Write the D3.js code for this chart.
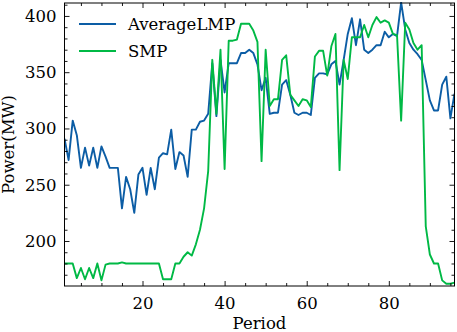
<!DOCTYPE html>
<html>
<head>
<meta charset="utf-8">
<script src="https://cdn.jsdelivr.net/npm/d3@7"></script>
<style>
  body { margin: 0; background: #fff; }
  text { font-family: "DejaVu Serif", serif; fill: #000; }
</style>
</head>
<body>
<div id="canvas"></div>
<script>
"use strict"
let svgWidth = 457;
let svgHeight = 332;

let marginLeft = 64.5;
let marginRight = 2.5;
let marginTop = 3;
let marginBottom = 46;

// period index 1..96
let periods = d3.range(1, 97);

let averageLMP = [
    291, 272, 307, 294, 265, 283, 267, 283, 265, 284, 275, 265, 265, 265, 229, 257,
    246, 225, 259, 265, 241, 265, 246, 274, 278, 277, 299, 264, 279, 276, 257, 299,
    299, 306, 307, 313, 358, 311, 361, 332, 358, 358, 358, 367, 367, 370, 367, 357,
    334, 345, 313, 314, 314, 339, 343, 330, 314, 312, 314, 314, 312, 345, 349, 349,
    348, 357, 360, 339, 361, 384, 398, 374, 397, 370, 367, 370, 374, 374, 386, 381,
    384, 382, 412, 388, 376, 370, 366, 361, 343, 325, 316, 316, 339, 346, 309, 331
];

let smp = [
    180, 180, 180, 167, 176, 166, 176, 167, 180, 165, 179, 180, 180, 180, 181, 180,
    180, 180, 180, 180, 180, 180, 180, 180, 166, 166, 166, 180, 180, 186, 190, 187,
    197, 210, 229, 262, 361, 313, 370, 264, 378, 378, 379, 393, 393, 393, 387, 377,
    271, 370, 320, 326, 326, 361, 365, 330, 325, 320, 326, 325, 319, 364, 369, 369,
    347, 373, 384, 263, 361, 344, 381, 381, 381, 392, 381, 392, 399, 394, 396, 394,
    384, 383, 307, 394, 388, 376, 370, 374, 213, 188, 180, 180, 165, 162, 162, 163
];

let seriesNames = ["AverageLMP", "SMP"];
let seriesColors = ["#0C5DA5", "#00B945"];

let xMajorTicks = [20, 40, 60, 80];
let xMinorTicks = d3.range(5, 96, 5);
let yMajorTicks = [200, 250, 300, 350, 400];
let yMinorTicks = d3.range(170, 411, 10);

let svg = d3.select("#canvas")
    .append("svg")
    .attr("width", svgWidth)
    .attr("height", svgHeight);

let xScale = d3.scaleLinear()
    .domain([1, 96])
    .range([marginLeft, svgWidth - marginRight]);

let yScale = d3.scaleLinear()
    .domain([160, 411.5])
    .range([svgHeight - marginBottom, marginTop]);

let plotW = svgWidth - marginRight - marginLeft;
let plotH = svgHeight - marginBottom - marginTop;

svg.append("clipPath")
    .attr("id", "plotClip")
    .append("rect")
    .attr("x", marginLeft)
    .attr("y", marginTop - 1)
    .attr("width", plotW)
    .attr("height", plotH + 1);

// draw the two series
let line = d3.line()
    .x(function(d, i) { return xScale(periods[i]); })
    .y(function(d) { return yScale(d); });

let allSeries = [averageLMP, smp];
for (let s = 0; s < allSeries.length; s++) {
    svg.append("path")
        .datum(allSeries[s])
        .attr("clip-path", "url(#plotClip)")
        .attr("fill", "none")
        .attr("stroke", seriesColors[s])
        .attr("stroke-width", 1.9)
        .attr("stroke-linejoin", "round")
        .attr("d", line);
}

// ticks pointing inward on all four sides
function styleAxis(g) {
    g.select(".domain").remove();
    g.selectAll("line").attr("stroke", "#000").attr("stroke-width", 0.9);
    g.selectAll("text").attr("font-size", "16.5px").attr("font-family", "DejaVu Serif");
}

let bottomY = svgHeight - marginBottom;
let rightX = svgWidth - marginRight;

svg.append("g")
    .attr("transform", "translate(0," + bottomY + ")")
    .call(d3.axisBottom(xScale).tickValues(xMajorTicks).tickSize(-5).tickPadding(11).tickFormat(d3.format("d")))
    .call(styleAxis);
svg.append("g")
    .attr("transform", "translate(0," + bottomY + ")")
    .call(d3.axisBottom(xScale).tickValues(xMinorTicks.filter(function(v) { return v % 20 != 0; })).tickSize(-3).tickFormat(""))
    .call(styleAxis);
svg.append("g")
    .attr("transform", "translate(0," + marginTop + ")")
    .call(d3.axisTop(xScale).tickValues(xMajorTicks).tickSize(-5).tickFormat(""))
    .call(styleAxis);
svg.append("g")
    .attr("transform", "translate(0," + marginTop + ")")
    .call(d3.axisTop(xScale).tickValues(xMinorTicks.filter(function(v) { return v % 20 != 0; })).tickSize(-3).tickFormat(""))
    .call(styleAxis);

svg.append("g")
    .attr("transform", "translate(" + marginLeft + ",0)")
    .call(d3.axisLeft(yScale).tickValues(yMajorTicks).tickSize(-5).tickPadding(8).tickFormat(d3.format("d")))
    .call(styleAxis);
svg.append("g")
    .attr("transform", "translate(" + marginLeft + ",0)")
    .call(d3.axisLeft(yScale).tickValues(yMinorTicks.filter(function(v) { return v % 50 != 0; })).tickSize(-3).tickFormat(""))
    .call(styleAxis);
svg.append("g")
    .attr("transform", "translate(" + rightX + ",0)")
    .call(d3.axisRight(yScale).tickValues(yMajorTicks).tickSize(-5).tickFormat(""))
    .call(styleAxis);
svg.append("g")
    .attr("transform", "translate(" + rightX + ",0)")
    .call(d3.axisRight(yScale).tickValues(yMinorTicks.filter(function(v) { return v % 50 != 0; })).tickSize(-3).tickFormat(""))
    .call(styleAxis);

// frame
svg.append("rect")
    .attr("x", marginLeft)
    .attr("y", marginTop)
    .attr("width", plotW)
    .attr("height", plotH)
    .attr("fill", "none")
    .attr("stroke", "#000")
    .attr("stroke-width", 1);

// axis labels
svg.append("text")
    .attr("x", marginLeft + plotW / 2)
    .attr("y", svgHeight - 3)
    .attr("text-anchor", "middle")
    .attr("font-size", "16.5px")
    .text("Period");

svg.append("text")
    .attr("transform", "rotate(-90)")
    .attr("x", -(marginTop + plotH / 2))
    .attr("y", 14)
    .attr("text-anchor", "middle")
    .attr("font-size", "16.5px")
    .text("Power(MW)");

// legend
let legendX = 79;
let legendY = 24;
for (let i = 0; i < seriesNames.length; i++) {
    let yPos = legendY + i * 27;
    svg.append("line")
        .attr("x1", legendX)
        .attr("x2", legendX + 37)
        .attr("y1", yPos)
        .attr("y2", yPos)
        .attr("stroke", seriesColors[i])
        .attr("stroke-width", 1.9);
    svg.append("text")
        .attr("x", legendX + 49)
        .attr("y", yPos + 6)
        .attr("font-size", "16.5px")
        .text(seriesNames[i]);
}
</script>
</body>
</html>
